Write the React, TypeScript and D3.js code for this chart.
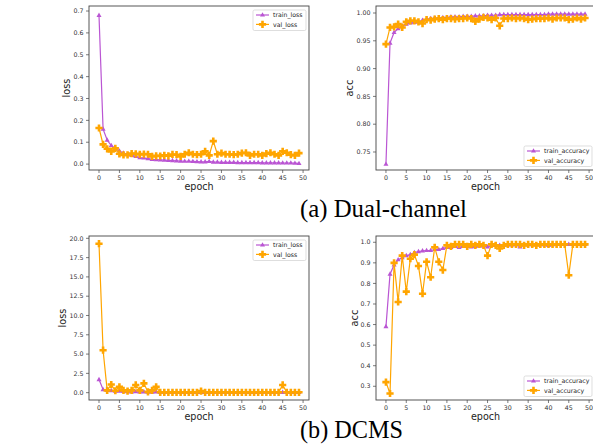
import * as d3 from 'd3';

// values, epochs 0..49
const dualTrainLoss = [0.68, 0.16, 0.11, 0.085, 0.07, 0.06, 0.05, 0.045, 0.04, 0.035, 0.03, 0.028, 0.025, 0.022, 0.02, 0.019, 0.018, 0.017, 0.016, 0.015, 0.014, 0.013, 0.013, 0.012, 0.011, 0.01, 0.01, 0.012, 0.009, 0.009, 0.008, 0.008, 0.008, 0.008, 0.007, 0.007, 0.007, 0.007, 0.007, 0.007, 0.006, 0.006, 0.006, 0.006, 0.006, 0.005, 0.005, 0.005, 0.004, 0.003];
const dualValLoss = [0.165, 0.09, 0.07, 0.058, 0.072, 0.047, 0.042, 0.042, 0.048, 0.047, 0.044, 0.046, 0.045, 0.035, 0.038, 0.037, 0.04, 0.038, 0.044, 0.043, 0.035, 0.045, 0.052, 0.045, 0.043, 0.045, 0.058, 0.04, 0.105, 0.045, 0.05, 0.045, 0.045, 0.043, 0.045, 0.05, 0.052, 0.04, 0.045, 0.045, 0.04, 0.048, 0.052, 0.045, 0.04, 0.058, 0.052, 0.043, 0.04, 0.05];
const dualTrainAcc = [0.728, 0.946, 0.965, 0.972, 0.977, 0.98, 0.982, 0.983, 0.984, 0.987, 0.989, 0.99, 0.991, 0.991, 0.992, 0.992, 0.993, 0.993, 0.993, 0.994, 0.994, 0.994, 0.995, 0.995, 0.995, 0.996, 0.996, 0.996, 0.997, 0.997, 0.997, 0.997, 0.997, 0.997, 0.997, 0.997, 0.997, 0.997, 0.997, 0.997, 0.998, 0.998, 0.998, 0.998, 0.998, 0.998, 0.998, 0.998, 0.998, 0.998];
const dualValAcc = [0.944, 0.974, 0.975, 0.98, 0.974, 0.984, 0.986, 0.986, 0.984, 0.981, 0.988, 0.987, 0.989, 0.99, 0.988, 0.99, 0.99, 0.989, 0.99, 0.99, 0.991, 0.99, 0.985, 0.989, 0.992, 0.991, 0.988, 0.991, 0.977, 0.99, 0.99, 0.991, 0.99, 0.991, 0.99, 0.988, 0.989, 0.99, 0.99, 0.99, 0.991, 0.989, 0.991, 0.991, 0.991, 0.988, 0.989, 0.991, 0.989, 0.991];

const dcmsTrainLoss = [1.7, 0.4, 0.3, 0.25, 0.2, 0.2, 0.15, 0.12, 0.1, 0.12, 0.1, 0.1, 0.08, 0.08, 0.1, 0.05, 0.04, 0.04, 0.04, 0.04, 0.03, 0.03, 0.03, 0.03, 0.03, 0.04, 0.03, 0.03, 0.03, 0.03, 0.03, 0.03, 0.03, 0.03, 0.03, 0.03, 0.03, 0.03, 0.03, 0.03, 0.03, 0.03, 0.03, 0.03, 0.03, 0.05, 0.03, 0.03, 0.03, 0.03];
const dcmsValLoss = [19.3, 5.5, 0.3, 1.05, 0.25, 0.75, 0.3, 0.2, 0.3, 1.0, 0.3, 1.2, 0.1, 0.3, 0.75, 0.05, 0.05, 0.05, 0.05, 0.05, 0.05, 0.05, 0.05, 0.05, 0.05, 0.2, 0.05, 0.05, 0.05, 0.05, 0.05, 0.05, 0.05, 0.05, 0.05, 0.05, 0.05, 0.05, 0.05, 0.05, 0.05, 0.05, 0.05, 0.05, 0.05, 1.0, 0.05, 0.05, 0.05, 0.05];
const dcmsTrainAcc = [0.59, 0.845, 0.89, 0.915, 0.925, 0.935, 0.94, 0.95, 0.955, 0.958, 0.96, 0.96, 0.965, 0.965, 0.97, 0.975, 0.975, 0.98, 0.975, 0.98, 0.98, 0.978, 0.98, 0.982, 0.982, 0.978, 0.985, 0.985, 0.985, 0.985, 0.987, 0.987, 0.988, 0.978, 0.988, 0.988, 0.988, 0.988, 0.989, 0.989, 0.985, 0.989, 0.99, 0.99, 0.99, 0.99, 0.99, 0.99, 0.99, 0.99];
const dcmsValAcc = [0.32, 0.265, 0.9, 0.71, 0.935, 0.76, 0.92, 0.94, 0.885, 0.75, 0.905, 0.83, 0.975, 0.905, 0.865, 0.985, 0.98, 0.99, 0.99, 0.99, 0.98, 0.99, 0.985, 0.99, 0.985, 0.935, 0.99, 0.985, 0.97, 0.985, 0.99, 0.99, 0.99, 0.99, 0.985, 0.99, 0.99, 0.985, 0.99, 0.99, 0.99, 0.99, 0.99, 0.99, 0.99, 0.84, 0.99, 0.99, 0.99, 0.99];

const xTicks = [0, 5, 10, 15, 20, 25, 30, 35, 40, 45, 50];
const dualLossTicks = [0.0, 0.1, 0.2, 0.3, 0.4, 0.5, 0.6, 0.7];
const dualAccTicks = [0.75, 0.8, 0.85, 0.9, 0.95, 1.0];
const dcmsLossTicks = [0, 2.5, 5, 7.5, 10, 12.5, 15, 17.5, 20];
const dcmsAccTicks = [0.3, 0.4, 0.5, 0.6, 0.7, 0.8, 0.9, 1.0];

const captions = ['(a) Dual-channel', '(b) DCMS'];

const TRAIN = '#BA55D3';
const VAL = '#FFA500';
const SANS = "'DejaVu Sans', sans-serif";
const SERIF = "'Liberation Serif', 'Times New Roman', serif";

const plusPath = 'M-1.3,-3.6H1.3V-1.3H3.6V1.3H1.3V3.6H-1.3V1.3H-3.6V-1.3H-1.3Z';
const triPath = 'M0,-2.8L2.5,1.6L-2.5,1.6Z';

type PanelProps = {
  left: number; top: number; w: number; h: number;
  yDomain: [number, number]; yTicks: number[]; yFmt: string;
  train: number[]; val: number[]; names: [string, string];
  ylabel: string; ylabelDx: number; legendBottom: boolean; legendW: number;
};

function Panel(p: PanelProps) {
  const x = d3.scaleLinear().domain([-2.45, 51.45]).range([p.left, p.left + p.w]);
  const y = d3.scaleLinear().domain(p.yDomain).range([p.top + p.h, p.top]);
  const fmt = d3.format(p.yFmt);
  const line = d3.line<number>().x((_, i) => x(i)).y(d => y(d));
  const right = p.left + p.w;
  const lgX = right - 3 - p.legendW;
  const lgY = p.legendBottom ? p.top + p.h - 3 - 21 : p.top + 4;
  const series = [
    { vals: p.train, color: TRAIN, marker: triPath },
    { vals: p.val, color: VAL, marker: plusPath },
  ];
  return (
    <g>
      <defs>
        <clipPath id={`clip-${p.left}-${p.top}`}>
          <rect x={p.left} y={p.top} width={p.w} height={p.h} />
        </clipPath>
      </defs>
      <g clipPath={`url(#clip-${p.left}-${p.top})`}>
        {series.map((s, k) => (
          <g key={k}>
            <path d={line(s.vals) ?? ''} fill="none" stroke={s.color} strokeWidth={1.2} />
            {s.vals.map((v, i) => (
              <path key={i} d={s.marker} transform={`translate(${x(i)},${y(v)})`} fill={s.color} />
            ))}
          </g>
        ))}
      </g>
      <rect x={p.left} y={p.top} width={p.w} height={p.h} fill="none" stroke="#444" strokeWidth={0.9} />
      {xTicks.map(t => (
        <g key={t} transform={`translate(${x(t)},${p.top + p.h})`}>
          <line y2={3} stroke="#444" strokeWidth={0.7} />
          <text y={9.5} textAnchor="middle" fontSize={6.3} fontFamily={SANS} fill="#333">{t}</text>
        </g>
      ))}
      {p.yTicks.map(t => (
        <g key={t} transform={`translate(${p.left},${y(t)})`}>
          <line x2={-3} stroke="#444" strokeWidth={0.7} />
          <text x={-5.5} dy="0.35em" textAnchor="end" fontSize={6.3} fontFamily={SANS} fill="#333">{fmt(t)}</text>
        </g>
      ))}
      <text x={p.left + p.w / 2} y={p.top + p.h + 19.5} textAnchor="middle" fontSize={9.6} fontFamily={SANS} fill="#222">epoch</text>
      <text transform={`translate(${p.left + p.ylabelDx},${p.top + p.h / 2}) rotate(-90)`} dy="0.35em" textAnchor="middle" fontSize={9.8} fontFamily={SANS} fill="#222">{p.ylabel}</text>
      <g transform={`translate(${lgX},${lgY})`}>
        <rect width={p.legendW} height={20.5} rx={1.5} fill="#fff" fillOpacity={0.85} stroke="#d0d0d0" strokeWidth={0.7} />
        {series.map((s, k) => (
          <g key={k} transform={`translate(0,${5 + k * 9.4})`}>
            <line x1={3} x2={16} stroke={s.color} strokeWidth={1.2} />
            <path d={s.marker} transform="translate(9.5,0)" fill={s.color} />
            <text x={20} dy="0.35em" fontSize={6.2} fontFamily={SANS} fill="#222">{p.names[k]}</text>
          </g>
        ))}
      </g>
    </g>
  );
}

export default function App() {
  return (
    <svg width={593} height={445} style={{ position: 'absolute', left: 0, top: 0, background: '#fff' }}>
      <Panel left={89} top={6} w={220} h={164} yDomain={[-0.027, 0.723]} yTicks={dualLossTicks} yFmt=".1f"
        train={dualTrainLoss} val={dualValLoss} names={['train_loss', 'val_loss']} ylabel="loss" ylabelDx={-22}
        legendBottom={false} legendW={53} />
      <Panel left={376} top={6} w={219} h={164} yDomain={[0.7176, 1.0126]} yTicks={dualAccTicks} yFmt=".2f"
        train={dualTrainAcc} val={dualValAcc} names={['train_accuracy', 'val_accuracy']} ylabel="acc" ylabelDx={-26}
        legendBottom={true} legendW={68} />
      <Panel left={89} top={236} w={220} h={164} yDomain={[-0.95, 20.3]} yTicks={dcmsLossTicks} yFmt=".1f"
        train={dcmsTrainLoss} val={dcmsValLoss} names={['train_loss', 'val_loss']} ylabel="loss" ylabelDx={-26}
        legendBottom={false} legendW={53} />
      <Panel left={376} top={236} w={219} h={164} yDomain={[0.2333, 1.0305]} yTicks={dcmsAccTicks} yFmt=".1f"
        train={dcmsTrainAcc} val={dcmsValAcc} names={['train_accuracy', 'val_accuracy']} ylabel="acc" ylabelDx={-21}
        legendBottom={true} legendW={68} />
      <text x={300} y={217} fontSize={24.5} fontFamily={SERIF} fill="#000"
        textLength={167} lengthAdjust="spacingAndGlyphs">{captions[0]}</text>
      <text x={300} y={438} fontSize={24.5} fontFamily={SERIF} fill="#000"
        textLength={103} lengthAdjust="spacingAndGlyphs">{captions[1]}</text>
    </svg>
  );
}
